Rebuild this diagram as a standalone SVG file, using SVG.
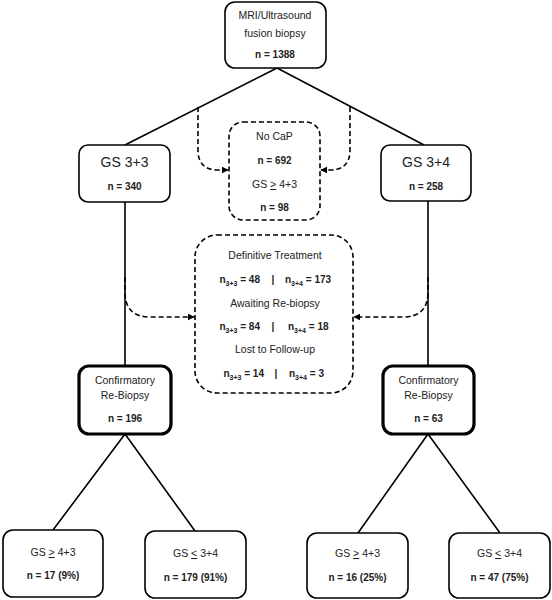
<svg xmlns="http://www.w3.org/2000/svg" width="552" height="600" viewBox="0 0 552 600">
<defs>
<marker id="ah" viewBox="0 0 10 10" refX="9" refY="5" markerWidth="7" markerHeight="7" markerUnits="userSpaceOnUse" orient="auto">
<path d="M0,0 L10,5 L0,10 z" fill="#000"/>
</marker>
<style>
.box{fill:#fff;stroke:#000;stroke-width:1.6}
.thick{fill:#fff;stroke:#000;stroke-width:3.2}
.dbox{fill:#fff;stroke:#000;stroke-width:1.6;stroke-dasharray:5,3}
.ln{fill:none;stroke:#000;stroke-width:1.6}
.dl{fill:none;stroke:#000;stroke-width:1.6;stroke-dasharray:5,3}
text{font-family:"Liberation Sans",Arial,sans-serif;fill:#222;text-anchor:middle}
.t{font-size:10.5px}
.big{font-size:14px}
.b{font-size:10px;font-weight:bold}
.s{font-size:7px}
.l{text-anchor:end}
.r{text-anchor:start}
</style>
</defs>
<rect width="552" height="600" fill="#fff"/>
<g id="connectors">
<path class="ln" d="M277,68 L125,145 M277,68 L424,145"/>
<path class="ln" d="M125,202 L125,366 M428,200 L428,366"/>
<path class="ln" d="M125,434 L53,530 M125,434 L195,531 M428,434 L358,533 M428,434 L500,533"/>
<path class="dl" d="M198,107 L198,150 Q198,170 218,170 L228,170" marker-end="url(#ah)"/>
<path class="dl" d="M350,107 L350,150 Q350,170 330,170 L321,170" marker-end="url(#ah)"/>
<path class="dl" d="M125,277 L125,292 Q125,317 150,317 L194,317" marker-end="url(#ah)"/>
<path class="dl" d="M428,277 L428,292 Q428,317 403,317 L354,317" marker-end="url(#ah)"/>
</g>
<g id="top">
<rect class="box" x="225" y="2" width="101" height="66" rx="10"/>
<text class="t" x="275" y="19">MRI/Ultrasound</text>
<text class="t" x="275" y="37">fusion biopsy</text>
<text class="b" x="275" y="58">n = 1388</text>
</g>
<g id="gs33">
<rect class="box" x="79" y="145" width="91" height="57" rx="9"/>
<text class="big" x="124.5" y="167">GS 3+3</text>
<text class="b" x="124.5" y="190">n = 340</text>
</g>
<g id="gs34">
<rect class="box" x="381" y="145" width="90" height="56" rx="9"/>
<text class="big" x="426" y="167">GS 3+4</text>
<text class="b" x="426" y="190">n = 258</text>
</g>
<g id="nocap">
<rect class="dbox" x="229" y="122" width="91" height="98" rx="14"/>
<text class="t" x="274.5" y="140">No CaP</text>
<text class="b" x="274.5" y="164">n = 692</text>
<text class="t" x="274.5" y="188">GS  <tspan text-decoration="underline">&gt;</tspan> 4+3</text>
<text class="b" x="274.5" y="211">n = 98</text>
</g>
<g id="center">
<rect class="dbox" x="195" y="235" width="158" height="158" rx="22"/>
<text class="t" x="275" y="259">Definitive Treatment</text>
<text class="b l" x="260" y="283">n<tspan class="s" dy="3">3+3</tspan><tspan dy="-3"> = 48</tspan></text>
<text class="b" x="273" y="283">|</text>
<text class="b r" x="285" y="283">n<tspan class="s" dy="3">3+4</tspan><tspan dy="-3"> = 173</tspan></text>
<text class="t" x="275" y="307">Awaiting Re-biopsy</text>
<text class="b l" x="260" y="330">n<tspan class="s" dy="3">3+3</tspan><tspan dy="-3"> = 84</tspan></text>
<text class="b" x="273" y="330">|</text>
<text class="b r" x="288" y="330">n<tspan class="s" dy="3">3+4</tspan><tspan dy="-3"> = 18</tspan></text>
<text class="t" x="275" y="353">Lost to Follow-up</text>
<text class="b l" x="264" y="377">n<tspan class="s" dy="3">3+3</tspan><tspan dy="-3"> = 14</tspan></text>
<text class="b" x="276" y="377">|</text>
<text class="b r" x="289" y="377">n<tspan class="s" dy="3">3+4</tspan><tspan dy="-3"> = 3</tspan></text>
</g>
<g id="conf1">
<rect class="thick" x="79" y="366" width="92" height="68" rx="10"/>
<text class="t" x="125" y="384">Confirmatory</text>
<text class="t" x="125" y="399">Re-Biopsy</text>
<text class="b" x="125" y="422">n = 196</text>
</g>
<g id="conf2">
<rect class="thick" x="383" y="366" width="91" height="68" rx="10"/>
<text class="t" x="428.5" y="384">Confirmatory</text>
<text class="t" x="428.5" y="399">Re-Biopsy</text>
<text class="b" x="428.5" y="422">n = 63</text>
</g>
<g id="b1">
<rect class="box" x="3" y="530" width="100" height="67" rx="10"/>
<text class="t" x="53" y="556">GS <tspan text-decoration="underline">&gt;</tspan> 4+3</text>
<text class="b" x="53" y="579">n = 17 (9%)</text>
</g>
<g id="b2">
<rect class="box" x="145" y="531" width="101" height="67" rx="10"/>
<text class="t" x="195.5" y="557">GS <tspan text-decoration="underline">&lt;</tspan> 3+4</text>
<text class="b" x="195.5" y="581">n =  179 (91%)</text>
</g>
<g id="b3">
<rect class="box" x="307" y="533" width="101" height="65" rx="10"/>
<text class="t" x="357.5" y="557">GS <tspan text-decoration="underline">&gt;</tspan> 4+3</text>
<text class="b" x="357.5" y="581">n = 16 (25%)</text>
</g>
<g id="b4">
<rect class="box" x="449" y="533" width="101" height="65" rx="10"/>
<text class="t" x="499.5" y="557">GS <tspan text-decoration="underline">&lt;</tspan> 3+4</text>
<text class="b" x="499.5" y="581">n = 47 (75%)</text>
</g>
</svg>
